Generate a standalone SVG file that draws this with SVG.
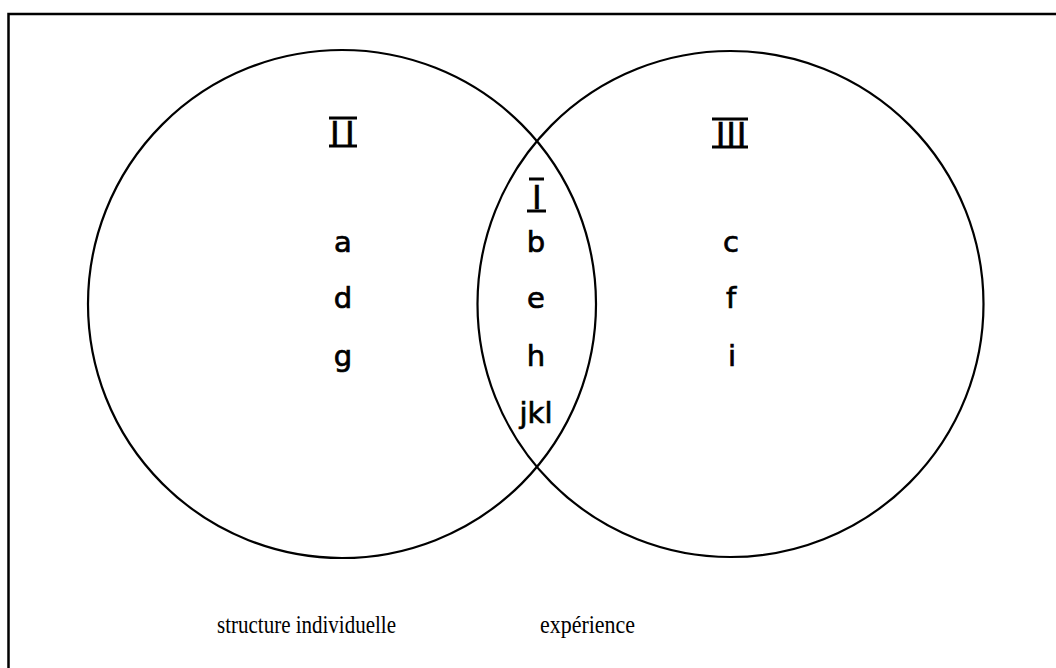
<svg xmlns="http://www.w3.org/2000/svg" width="1056" height="668" viewBox="0 0 1056 668">
<style>
.ln{fill:none;stroke:#000;stroke-width:2.2}
.bar{stroke:#000;stroke-width:3;stroke-linecap:butt}
.num{font-family:"Liberation Sans",Arial,sans-serif;font-size:35px;fill:#000;stroke:#000;stroke-width:0.6}
.lt{font-family:"DejaVu Sans",sans-serif;font-size:29px;fill:#000;stroke:#000;stroke-width:0.7;text-anchor:middle}
.lab{font-family:"Liberation Serif","Times New Roman",serif;font-size:25px;fill:#000}
</style>
<rect x="0" y="0" width="1056" height="668" fill="#fff"/>
<g id="frame">
<path d="M1060 14 H8.5 V672" fill="none" stroke="#000" stroke-width="2.5"/>
</g>
<g id="set-structure">
<circle class="ln" cx="342" cy="304" r="254"/>
<g id="label-II">
<line class="bar" x1="329" y1="118" x2="357" y2="118"/>
<line class="bar" x1="329" y1="146" x2="357" y2="146"/>
<text class="num" x="330" y="145" letter-spacing="5.3">II</text>
</g>
<text class="lt" x="343" y="252">a</text>
<text class="lt" x="343" y="308">d</text>
<text class="lt" x="343" y="366">g</text>
</g>
<g id="set-experience">
<circle class="ln" cx="730.5" cy="304" r="253"/>
<g id="label-III">
<line class="bar" x1="712" y1="119" x2="748" y2="119"/>
<line class="bar" x1="712" y1="147" x2="748" y2="147"/>
<text class="num" x="715.8" y="146" letter-spacing="0.8">III</text>
</g>
<text class="lt" x="731" y="252">c</text>
<text class="lt" x="731" y="308">f</text>
<text class="lt" x="732" y="366">i</text>
</g>
<g id="intersection">
<line class="bar" x1="529" y1="179" x2="544" y2="179"/>
<line class="bar" x1="527" y1="211" x2="546" y2="211"/>
<text class="num" x="532.1" y="209" font-size="36">I</text>
<text class="lt" x="536" y="252">b</text>
<text class="lt" x="536" y="308">e</text>
<text class="lt" x="536" y="366">h</text>
<text class="lt" x="536" y="423">jkl</text>
</g>
<g id="captions">
<text class="lab" x="217" y="633" textLength="179" lengthAdjust="spacingAndGlyphs">structure individuelle</text>
<text class="lab" x="540" y="633" textLength="95" lengthAdjust="spacingAndGlyphs">expérience</text>
</g>
<g id="connectors"></g>
</svg>
